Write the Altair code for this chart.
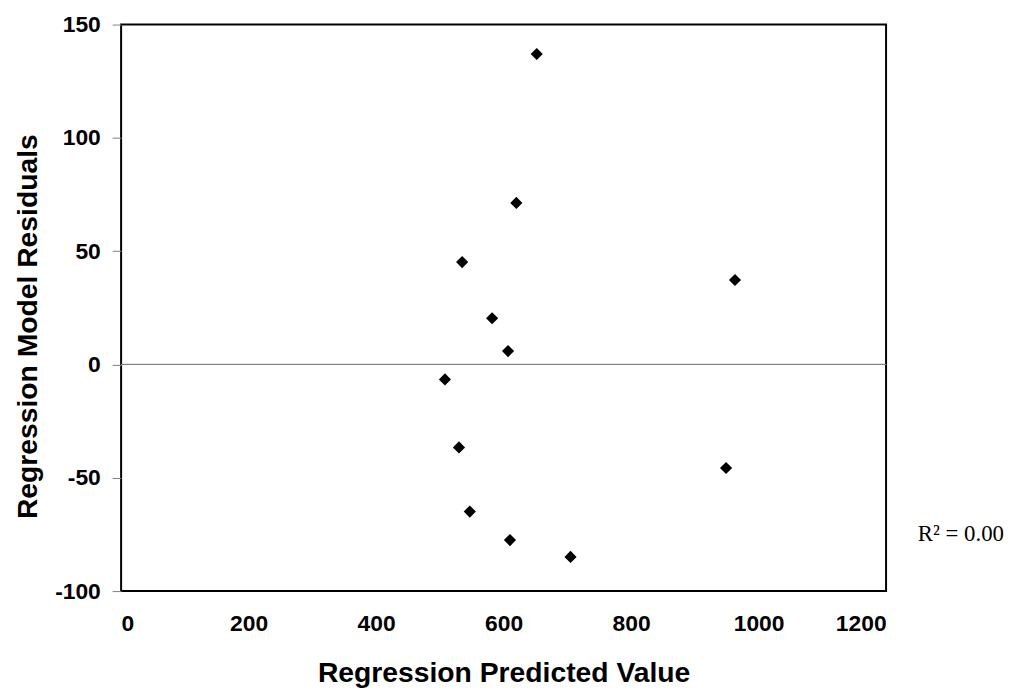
import altair as alt
import pandas as pd

predicted = [652, 620, 535, 963, 582, 607, 508, 530, 949, 547, 610, 705]
residuals = [137.0, 71.3, 45.2, 37.3, 20.4, 5.9, -6.6, -36.6, -45.7, -64.9, -77.5, -84.9]

x_ticks = [0, 200, 400, 600, 800, 1000, 1200]
y_ticks = [-100, -50, 0, 50, 100, 150]

df = pd.DataFrame({"pred": predicted, "resid": residuals})

FONT = "Liberation Sans"

x_enc = alt.X(
    "pred:Q",
    scale=alt.Scale(domain=[0, 1200], nice=False, zero=False),
    axis=alt.Axis(
        values=x_ticks,
        labelExpr="toString(datum.value)",
        title="Regression Predicted Value",
        ticks=False,
        domain=False,
        grid=False,
        labelFont=FONT,
        labelFontWeight="bold",
        labelFontSize=23,
        labelColor="black",
        labelPadding=22,
        titleFont=FONT,
        titleFontWeight="bold",
        titleFontSize=28.5,
        titleColor="black",
        titleBaseline="alphabetic",
        titleY=91,
    ),
)

y_enc = alt.Y(
    "resid:Q",
    scale=alt.Scale(domain=[-100, 150], nice=False, zero=False),
    axis=alt.Axis(
        values=y_ticks,
        labelExpr="toString(datum.value)",
        title="Regression Model Residuals",
        ticks=True,
        tickSize=9,
        tickColor="#808080",
        tickWidth=1,
        domain=False,
        grid=False,
        labelFont=FONT,
        labelFontWeight="bold",
        labelFontSize=23,
        labelColor="black",
        labelPadding=12,
        titleFont=FONT,
        titleFontWeight="bold",
        titleFontSize=28.5,
        titleColor="black",
        titleAngle=-90,
        titleBaseline="alphabetic",
        titleX=-85,
        titleY=304,
    ),
)

points = alt.Chart(df).mark_point(
    shape="diamond", filled=True, color="black", size=150, opacity=1
).encode(x=x_enc, y=y_enc)

zero_line = alt.Chart(df).mark_rule(color="#808080", strokeWidth=1).encode(
    y=alt.datum(0)
)

r2 = alt.Chart(pd.DataFrame({"t": ["R² = 0.00"]})).mark_text(
    font="Liberation Serif", fontSize=23, align="left", baseline="alphabetic", color="black"
).encode(text="t:N", x=alt.value(803), y=alt.value(521))

chart = alt.layer(zero_line, points, r2).properties(
    width=771,
    height=571,
    autosize="none",
    padding={"left": 114, "top": 14, "right": 136, "bottom": 99},
).configure_view(stroke="black", strokeWidth=2)

chart.save("out.html", embed_options={"renderer": "svg", "actions": False})
